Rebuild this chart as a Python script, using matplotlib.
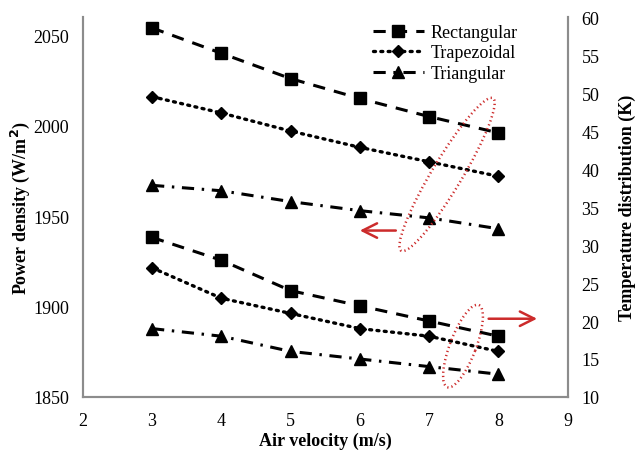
import numpy as np
import matplotlib
matplotlib.use("Agg")
import matplotlib.pyplot as plt
from matplotlib.patches import Ellipse
from matplotlib.transforms import IdentityTransform

plt.rcParams['font.family'] = ['Liberation Serif', 'DejaVu Serif']
plt.rcParams['font.size'] = 13

# air velocity (m/s)
velocity = np.array([3, 4, 5, 6, 7, 8])

# power density (W/m2), left axis
power_rect = [2054, 2040, 2026, 2015, 2005, 1996]
power_trap = [2016, 2007, 1997, 1988, 1980, 1972]
power_tri = [1967, 1964, 1958, 1953, 1949, 1943]

# temperature distribution (K), right axis
temp_rect = [31, 28, 24, 22, 20, 18]
temp_trap = [27, 23, 21, 19, 18, 16]
temp_tri = [19, 18, 16, 15, 14, 13]

labels = ['Rectangular', 'Trapezoidal', 'Triangular']
red = '#cc2b2b'
spine_grey = '#8c8c8c'

styles = [
    dict(marker='s', markersize=8, linestyle=(0, (4, 3)), linewidth=2.2),
    dict(marker='D', markersize=6, linestyle=(0, (0.6, 1.6)), linewidth=2.4,
         dash_capstyle='round'),
    dict(marker='^', markersize=8, linestyle=(0, (4, 2.5, 0.8, 2.5)), linewidth=2.2),
]

fig = plt.figure(figsize=(6.37, 4.52), dpi=100)
ax = fig.add_axes([0.130, 0.1195, 0.761, 0.8405])
ax2 = ax.twinx()

for vals, lab, st in zip([power_rect, power_trap, power_tri], labels, styles):
    ax.plot(velocity, vals, color='black', label=lab, **st)
for vals, st in zip([temp_rect, temp_trap, temp_tri], styles):
    ax2.plot(velocity, vals, color='black', **st)

ax.set_xlim(2, 9)
ax.set_ylim(1850, 2060)
ax.set_yticks([1850, 1900, 1950, 2000, 2050])
ax.set_xticks(range(2, 10))
ax2.set_ylim(10, 60)
ax2.set_yticks(range(10, 61, 5))

for a in (ax, ax2):
    a.tick_params(length=0, labelsize=13)
    a.spines['top'].set_visible(False)
    for s in ('left', 'right', 'bottom'):
        a.spines[s].set_color(spine_grey)
        a.spines[s].set_linewidth(1.5)
ax.tick_params(axis='x', pad=11)
ax.tick_params(axis='y', pad=10)
ax2.tick_params(axis='y', pad=10)

ax.set_xlabel('Air velocity (m/s)', fontweight='bold', labelpad=2)
ax.set_ylabel('Power density (W/m$^\\mathbf{2}$)', fontweight='bold', labelpad=1)
ax2.set_ylabel('Temperature distribution (K)', fontweight='bold', labelpad=14)

ax.legend(loc='upper left', bbox_to_anchor=(0.565, 1.025), frameon=False,
          handlelength=2.8, handletextpad=0.4, labelspacing=0.2, fontsize=13)

# red dotted ellipses grouping the curves, arrows pointing to their axes
fig.canvas.draw()
c1 = ax.transData.transform((7.26, 1973))
c2 = ax2.transData.transform((7.49, 16.7))
for c, w, h, ang in [(c1, 178, 30, 59), (c2, 88, 26, 69)]:
    e = Ellipse(c, w, h, angle=ang, transform=IdentityTransform(), fill=False,
                edgecolor=red, linestyle=(0, (0.5, 1.2)), linewidth=1.8, clip_on=False)
    fig.add_artist(e)

ax.annotate('', xy=(5.96, 1942), xytext=(6.56, 1942),
            arrowprops=dict(arrowstyle='->,head_length=0.8,head_width=0.4', color=red, lw=1.8))
ax2.annotate('', xy=(8.6, 20.3), xytext=(7.82, 20.3),
             arrowprops=dict(arrowstyle='->,head_length=0.8,head_width=0.4', color=red, lw=1.8),
             annotation_clip=False)

fig.savefig('out.png', dpi=100)
